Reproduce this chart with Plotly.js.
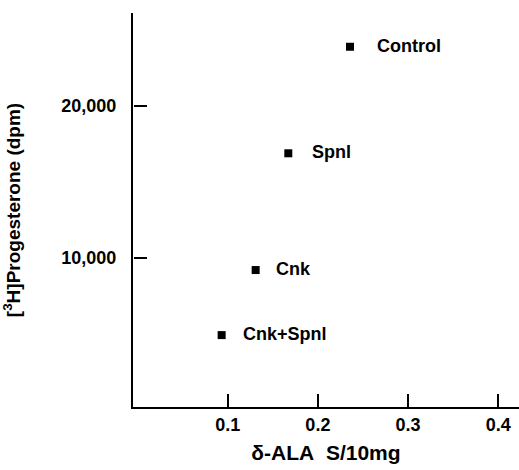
<!DOCTYPE html>
<html>
<head>
<meta charset="utf-8">
<script src="https://cdn.plot.ly/plotly-3.0.1.min.js"></script>
<style>html,body{margin:0;padding:0;background:#fff;}#chart{width:519px;height:470px;}</style>
</head>
<body>
<div id="chart"></div>
<script>
const groups = ["Control", "Spnl", "Cnk", "Cnk+Spnl"];
const alaValues = [0.2356, 0.1672, 0.131, 0.0933];
const progesterone = [23900, 16890, 9210, 4930];
const labelShift = [25, 22, 18, 19];
const xTickVals = [0.1, 0.2, 0.3, 0.4];
const xTickText = ["0.1", "0.2", "0.3", "0.4"];
const yTickVals = [10000, 20000];
const yTickText = ["10,000", "20,000"];

const fontFam = "Liberation Sans, Arial, Helvetica, sans-serif";
const xRange = [-0.005, 0.423];
const yRange = [200, 26120];

const trace = {
  x: alaValues,
  y: progesterone,
  mode: "markers",
  type: "scatter",
  marker: {symbol: "square", size: 8, color: "#000"},
  hoverinfo: "skip"
};
// invisible copy on the overlay axes so they are drawn (inward tick marks)
const tickTrace = {
  x: alaValues, y: progesterone, xaxis: "x2", yaxis: "y2",
  mode: "markers", type: "scatter", marker: {size: 1, opacity: 0},
  hoverinfo: "skip"
};

const annotations = groups.map((g, i) => ({
  x: alaValues[i], y: progesterone[i], xref: "x", yref: "y",
  text: g, showarrow: false, xanchor: "left", yanchor: "middle",
  xshift: labelShift[i], yshift: 1,
  font: {family: fontFam, size: 18, color: "#000", weight: "bold"}
}));

const layout = {
  width: 519, height: 470,
  margin: {l: 133, r: 0, t: 13, b: 63, pad: 0},
  paper_bgcolor: "#fff", plot_bgcolor: "#fff",
  showlegend: false,
  xaxis: {
    range: xRange,
    tickvals: xTickVals, ticktext: xTickText,
    ticks: "", 
    showline: true, linecolor: "#000", linewidth: 2,
    showgrid: false, zeroline: false,
    tickfont: {family: fontFam, size: 18, color: "#000", weight: "bold"},
    title: {text: "δ-ALA\u00a0\u00a0S/10mg", font: {family: fontFam, size: 21, color: "#000", weight: "bold"}, standoff: 12}
  },
  yaxis: {
    range: yRange,
    tickvals: yTickVals, ticktext: yTickText,
    ticks: "outside", ticklen: 11, tickwidth: 2, tickcolor: "rgba(0,0,0,0)",
    showline: true, linecolor: "#000", linewidth: 2,
    showgrid: false, zeroline: false,
    tickfont: {family: fontFam, size: 18, color: "#000", weight: "bold"},
    title: {text: "[<sup>3</sup>H]Progesterone (dpm)", font: {family: fontFam, size: 19, color: "#000", weight: "bold"}, standoff: 36}
  },
  xaxis2: {
    overlaying: "x", side: "top", anchor: "free", position: 0,
    range: xRange, tickvals: xTickVals, showticklabels: false,
    ticks: "outside", ticklen: 13, tickwidth: 2, tickcolor: "#000",
    showline: false, showgrid: false, zeroline: false
  },
  yaxis2: {
    overlaying: "y", side: "right", anchor: "free", position: 0,
    range: yRange, tickvals: yTickVals, showticklabels: false,
    ticks: "outside", ticklen: 13, tickwidth: 2, tickcolor: "#000",
    showline: false, showgrid: false, zeroline: false
  },
  annotations: annotations
};

Plotly.newPlot("chart", [trace, tickTrace], layout, {staticPlot: true, displayModeBar: false});
</script>
</body>
</html>
